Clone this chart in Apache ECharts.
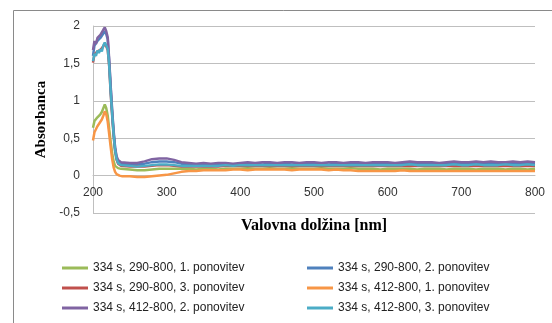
<!DOCTYPE html>
<html>
<head>
<meta charset="utf-8">
<script src="https://cdn.jsdelivr.net/npm/echarts@6/dist/echarts.min.js"></script>
<style>html,body{margin:0;padding:0;background:#fff}#c{width:552px;height:323px}</style>
</head>
<body>
<div id="c"></div>
<script>
const wl = [200,202,204,206,208,210,212,214,216,218,220,222,224,226,228,230,232,234,236,238,240,
250,260,270,280,290,300,310,320,330,340,350,360,370,380,390,400,410,420,430,440,450,460,470,480,490,
500,510,520,530,540,550,560,570,580,590,600,610,620,630,640,650,660,670,680,690,700,710,720,730,740,
750,760,770,780,790,800];

const names = [
  "334 s, 290-800, 1. ponovitev",
  "334 s, 290-800, 2. ponovitev",
  "334 s, 290-800, 3. ponovitev",
  "334 s, 412-800, 1. ponovitev",
  "334 s, 412-800, 2. ponovitev",
  "334 s, 412-800, 3. ponovitev"
];

const green = [0.64,0.73,0.74,0.78,0.80,0.82,0.85,0.90,0.95,0.90,0.80,0.62,0.45,0.30,0.19,0.13,0.11,0.10,0.10,0.09,0.09,
0.08,0.07,0.07,0.08,0.09,0.09,0.09,0.09,0.09,0.08,0.09,0.09,0.08,0.09,0.09,0.09,0.10,0.09,0.09,0.10,0.09,0.09,0.10,0.09,0.09,
0.09,0.10,0.09,0.09,0.09,0.10,0.09,0.09,0.09,0.08,0.09,0.09,0.09,0.09,0.08,0.09,0.09,0.09,0.08,0.09,0.09,0.09,0.08,0.09,0.09,
0.09,0.08,0.09,0.09,0.08,0.09];

const blue = [1.60,1.74,1.72,1.80,1.78,1.84,1.83,1.90,1.93,1.89,1.82,1.52,1.17,0.85,0.57,0.36,0.24,0.19,0.17,0.16,0.15,
0.15,0.15,0.16,0.18,0.19,0.19,0.18,0.16,0.15,0.15,0.15,0.15,0.15,0.16,0.15,0.15,0.16,0.16,0.15,0.16,0.16,0.16,0.15,0.16,0.16,
0.16,0.16,0.15,0.16,0.16,0.16,0.16,0.15,0.16,0.16,0.16,0.16,0.16,0.17,0.16,0.16,0.16,0.16,0.16,0.17,0.16,0.16,0.17,0.16,0.16,
0.16,0.17,0.16,0.16,0.17,0.16];

const red = [1.51,1.62,1.60,1.66,1.64,1.68,1.66,1.73,1.77,1.73,1.68,1.46,1.10,0.80,0.53,0.33,0.21,0.16,0.14,0.13,0.12,
0.12,0.12,0.12,0.13,0.14,0.14,0.13,0.12,0.12,0.12,0.12,0.12,0.12,0.13,0.13,0.13,0.13,0.13,0.13,0.13,0.13,0.13,0.13,0.13,0.13,
0.13,0.13,0.13,0.13,0.13,0.13,0.13,0.13,0.13,0.13,0.13,0.13,0.13,0.13,0.13,0.13,0.13,0.13,0.13,0.13,0.13,0.13,0.13,0.13,0.13,
0.13,0.13,0.13,0.13,0.13,0.13];

const orange = [0.47,0.58,0.62,0.66,0.68,0.72,0.75,0.80,0.86,0.82,0.72,0.55,0.38,0.22,0.11,0.05,0.02,0.01,0.00,-0.01,-0.01,
-0.01,-0.02,-0.02,-0.01,0.00,0.01,0.03,0.05,0.06,0.06,0.07,0.07,0.07,0.07,0.08,0.08,0.07,0.08,0.08,0.08,0.08,0.08,0.07,0.08,0.08,
0.08,0.08,0.07,0.08,0.07,0.07,0.06,0.06,0.06,0.06,0.06,0.06,0.07,0.06,0.06,0.06,0.06,0.06,0.06,0.06,0.06,0.06,0.06,0.06,0.06,
0.06,0.06,0.06,0.06,0.06,0.06];

const purple = [1.68,1.80,1.76,1.84,1.82,1.88,1.86,1.95,1.98,1.93,1.85,1.55,1.20,0.88,0.60,0.38,0.26,0.21,0.19,0.18,0.18,
0.17,0.17,0.19,0.22,0.23,0.23,0.21,0.18,0.17,0.16,0.17,0.16,0.17,0.17,0.16,0.17,0.18,0.17,0.18,0.18,0.17,0.18,0.18,0.17,0.18,
0.18,0.17,0.18,0.18,0.17,0.18,0.18,0.17,0.18,0.18,0.18,0.17,0.18,0.19,0.18,0.18,0.18,0.17,0.18,0.19,0.18,0.18,0.19,0.18,0.19,
0.18,0.18,0.19,0.18,0.19,0.18];

const aqua = [1.53,1.63,1.60,1.67,1.64,1.69,1.66,1.74,1.78,1.74,1.69,1.47,1.12,0.82,0.55,0.34,0.22,0.17,0.15,0.14,0.13,
0.13,0.12,0.13,0.14,0.15,0.15,0.14,0.13,0.13,0.13,0.13,0.13,0.13,0.14,0.13,0.14,0.14,0.14,0.14,0.14,0.14,0.14,0.14,0.14,0.14,
0.14,0.14,0.14,0.14,0.14,0.14,0.14,0.14,0.14,0.14,0.14,0.14,0.14,0.15,0.14,0.14,0.14,0.14,0.14,0.15,0.14,0.14,0.15,0.14,0.14,
0.14,0.15,0.14,0.14,0.15,0.14];

const values = [green, blue, red, orange, purple, aqua];
const colors = ["#9BBB59", "#4F81BD", "#C0504D", "#F79646", "#8064A2", "#4BACC6"];

const yMin = -0.5, yMax = 2, yStep = 0.5;
const gridTop = 26, gridBottom = 110, H = 323;
const plotH = H - gridTop - gridBottom;
// x axis crosses at y = 0 (as in the reference), computed from the y scale
const xAxisOffset = -plotH * (0 - yMin) / (yMax - yMin);

const chart = echarts.init(document.getElementById('c'), null, {renderer: 'canvas'});
const legendText = {fontFamily: 'Liberation Sans', fontSize: 12, color: '#222'};
const option = {
  animation: false,
  backgroundColor: '#fff',
  graphic: [{
    type: 'rect', silent: true,
    shape: {x: 13.5, y: 10.5, width: 700, height: 500},
    style: {fill: 'none', stroke: '#8a8a8a', lineWidth: 1}
  }],
  grid: {left: 93, right: 17, top: gridTop, bottom: gridBottom, containLabel: false},
  legend: [
    {orient: 'vertical', left: 57, top: 257, itemWidth: 26, itemHeight: 3, itemGap: 8, icon: 'rect',
     data: [names[0], names[2], names[4]], textStyle: legendText},
    {orient: 'vertical', left: 302, top: 257, itemWidth: 26, itemHeight: 3, itemGap: 8, icon: 'rect',
     data: [names[1], names[3], names[5]], textStyle: legendText}
  ],
  xAxis: {
    type: 'value', min: 200, max: 800, interval: 100,
    position: 'bottom', offset: xAxisOffset,
    axisLine: {show: true, onZero: false, lineStyle: {color: '#BFBFBF', width: 1}},
    axisTick: {show: false},
    splitLine: {show: false},
    axisLabel: {fontFamily: 'Liberation Sans', fontSize: 12, color: '#333', margin: 11},
    name: 'Valovna dolžina [nm]', nameLocation: 'middle', nameGap: 42,
    nameTextStyle: {fontFamily: 'Liberation Serif', fontWeight: 'bold', fontSize: 16, color: '#000'}
  },
  yAxis: {
    type: 'value', min: yMin, max: yMax, interval: yStep,
    axisLine: {show: true, lineStyle: {color: '#BFBFBF', width: 1}},
    axisTick: {show: false},
    splitLine: {show: true, lineStyle: {color: '#BFBFBF', width: 1}},
    axisLabel: {fontFamily: 'Liberation Sans', fontSize: 12, color: '#333', margin: 13,
      formatter: v => String(v).replace('.', ',')},
    name: 'Absorbanca', nameLocation: 'middle', nameGap: 42, nameRotate: 90,
    nameTextStyle: {fontFamily: 'Liberation Serif', fontWeight: 'bold', fontSize: 15, color: '#000'}
  },
  series: values.map((vals, i) => ({
    name: names[i], type: 'line', symbol: 'none', smooth: false,
    color: colors[i],
    lineStyle: {color: colors[i], width: 2.5},
    data: wl.map((x, j) => [x, vals[j]])
  }))
};
chart.setOption(option);
</script>
</body>
</html>
